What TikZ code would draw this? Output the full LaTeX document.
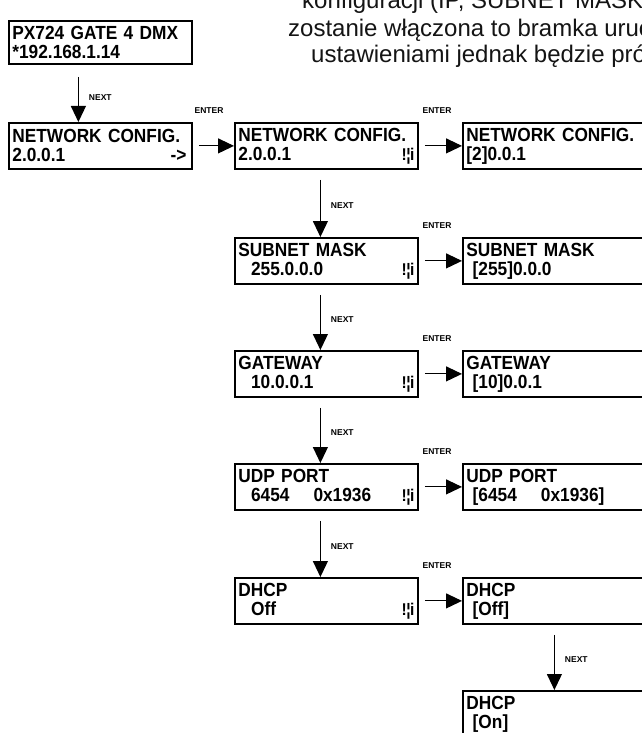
\documentclass[tikz,border=0pt]{standalone}
\usepackage{fontspec}
\setmainfont{Liberation Sans}
\newfontfamily\lcdfont[FakeStretch=0.91]{Liberation Sans}
\usetikzlibrary{arrows.meta}
\newcommand{\lcdsym}{{\fontsize{17}{17}\selectfont !\kern-0.5pt¦\kern-0.5pt i}}
\begin{document}
\begin{tikzpicture}[x=1pt,y=-1pt,
  lcd/.style={draw, line width=1.8pt, minimum width=183pt, minimum height=46pt,
    anchor=north west, inner xsep=3pt, inner ysep=0pt, text width=176pt,
    align=left, font=\lcdfont\bfseries\fontsize{19}{19}\selectfont},
  arr/.style={line width=1.1pt, -{Triangle[length=16pt,width=15pt]}},
  lbl/.style={font=\bfseries\fontsize{8.5}{9}\selectfont, inner sep=0pt},
  para/.style={font=\fontsize{24}{28}\selectfont, text=black!92, anchor=base west, inner sep=0pt}]
\useasboundingbox (0,0) rectangle (642,733);
\begin{scope}
\clip (0,0) rectangle (642,733);
% paragraph
\node[para] (p1) at (302,9) {konfiguracji (IP, SUBNET MASK};
\node[para] (p2) at (288,37) {zostanie włączona to bramka uruc};
\node[para] (p3) at (311,63) {ustawieniami jednak będzie pró};
% boxes
\node[lcd, minimum height=43pt] (b0) at (8,20) {PX724 GATE 4 DMX\\{*192.168.1.14}};
\node[lcd] (n1) at (8,122) {NETWORK CONFIG.\\\makebox[176pt][l]{2.0.0.1\hfill->\kern2pt}};
\node[lcd] (n2) at (234,122) {NETWORK CONFIG.\\\makebox[176pt][l]{2.0.0.1\hfill\lcdsym}};
\node[lcd] (n3) at (462,122) {NETWORK CONFIG.\\{[2]0.0.1}};
\node[lcd] (s2) at (234,237) {SUBNET MASK\\\makebox[176pt][l]{\ \ 255.0.0.0\hfill\lcdsym}};
\node[lcd] (s3) at (462,237) {SUBNET MASK\\\ [255]0.0.0};
\node[lcd] (g2) at (234,350) {GATEWAY\\\makebox[176pt][l]{\ \ 10.0.0.1\hfill\lcdsym}};
\node[lcd] (g3) at (462,350) {GATEWAY\\\ [10]0.0.1};
\node[lcd] (u2) at (234,463) {UDP PORT\\\makebox[176pt][l]{\ \ 6454\hspace{24pt}0x1936\hfill\lcdsym}};
\node[lcd] (u3) at (462,463) {UDP PORT\\\ [6454\hspace{24pt}0x1936]};
\node[lcd] (d2) at (234,577) {DHCP\\\makebox[176pt][l]{\ \ Off\hfill\lcdsym}};
\node[lcd] (d3) at (462,577) {DHCP\\\ [Off]};
\node[lcd] (d4) at (462,690) {DHCP\\\ [On]};
% vertical arrows
\draw[arr] ([xshift=-22pt,yshift=-12pt]b0.south) -- ([xshift=-22pt]n1.north) node[lbl, pos=0.45, right=10pt] (t0) {NEXT};
\draw[arr] ([xshift=-6pt,yshift=-10pt]n2.south) -- ([xshift=-6pt]s2.north) node[lbl, pos=0.45, right=10pt] (t1) {NEXT};
\draw[arr] ([xshift=-6pt,yshift=-10pt]s2.south) -- ([xshift=-6pt]g2.north) node[lbl, pos=0.45, right=10pt] (t2) {NEXT};
\draw[arr] ([xshift=-6pt,yshift=-10pt]g2.south) -- ([xshift=-6pt]u2.north) node[lbl, pos=0.45, right=10pt] (t3) {NEXT};
\draw[arr] ([xshift=-6pt,yshift=-10pt]u2.south) -- ([xshift=-6pt]d2.north) node[lbl, pos=0.45, right=10pt] (t4) {NEXT};
\draw[arr] ([yshift=-10pt]d3.south) -- (d4.north) node[lbl, pos=0.45, right=10pt] (t5) {NEXT};
% horizontal arrows
\foreach \a/\b in {n1/n2, n2/n3, s2/s3, g2/g3, u2/u3, d2/d3}{
  \draw[arr] ([xshift=6pt]\a.east) -- (\b.west);
  \node[lbl, anchor=south] at ([xshift=-25pt,yshift=8pt]\b.north west) {ENTER};
}
\end{scope}
\end{tikzpicture}
\end{document}
